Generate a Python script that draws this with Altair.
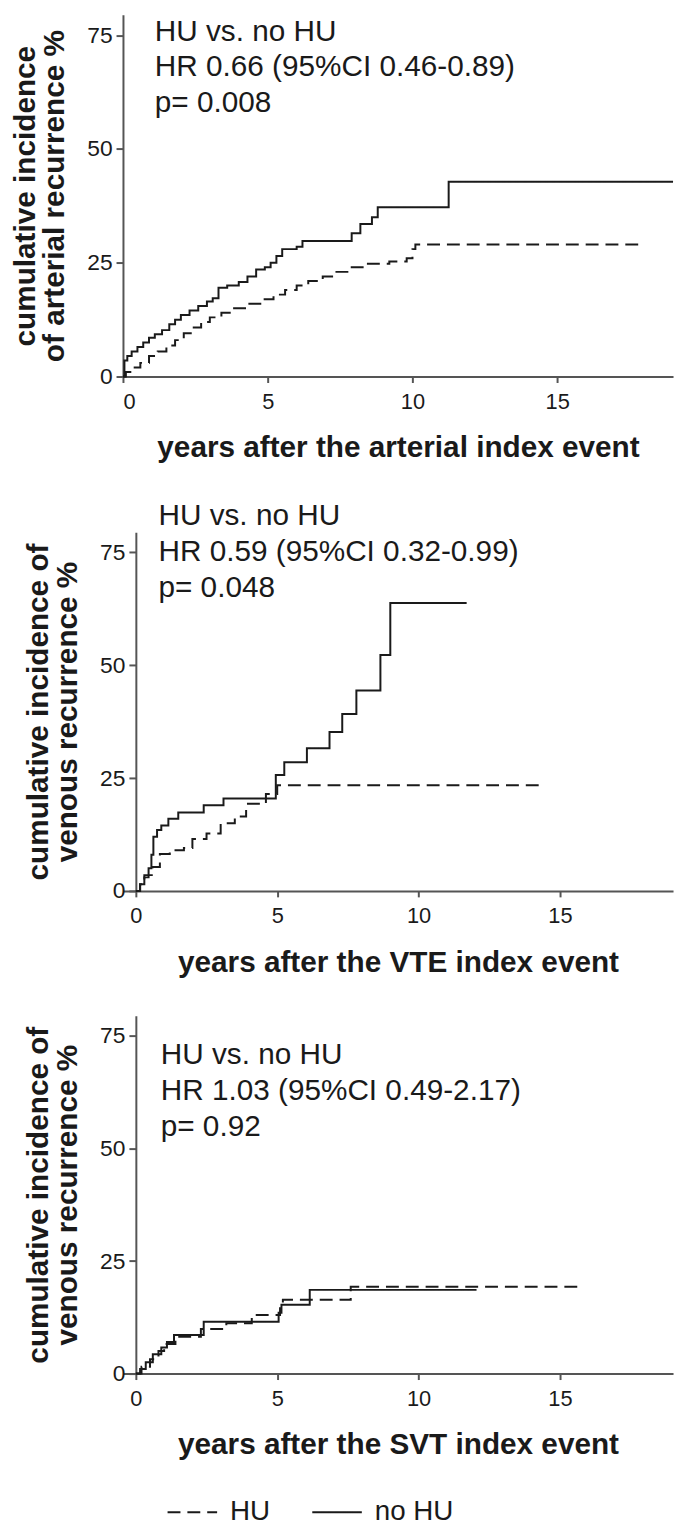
import altair as alt
import pandas as pd

FONT = "Liberation Sans"
INK = "#1a1a1a"
AXIS_GRAY = "#555555"

GROUPS = ["HU", "no HU"]
X_TICKS = [0, 5, 10, 15]
Y_TICKS = [0, 25, 50, 75]

# ---- Panel 1: arterial recurrence ----
ART_HU_T = [0, 0.1, 0.3, 0.6, 0.9, 1.2, 1.5, 1.8, 2.1, 2.4, 2.7, 3.0, 3.4, 3.8, 4.3, 4.8,
            5.2, 5.6, 6.0, 6.4, 6.9, 7.3, 7.8, 8.4, 9.2, 9.8, 10.0, 10.1, 17.8]
ART_HU_Y = [0, 1, 2, 3, 4.5, 5.5, 6.8, 8, 9.5, 10.8, 12, 13, 14, 15, 16, 17,
            18, 19, 20, 21, 22, 23, 24, 24.8, 25.3, 26, 28, 29, 29]
ART_NO_T = [0, 0.05, 0.15, 0.3, 0.5, 0.7, 0.9, 1.1, 1.35, 1.6, 1.8, 2.0, 2.3, 2.6, 2.9, 3.1,
            3.3, 3.6, 4.0, 4.3, 4.6, 4.9, 5.1, 5.3, 5.5, 6.0, 6.2, 7.9, 8.2, 8.6, 8.8, 11.25, 19]
ART_NO_Y = [0, 3.5, 4.5, 5.5, 6.5, 7.5, 8.5, 9.3, 10.2, 11.5, 12.5, 13.5, 14.5, 15.5, 16.5, 17.2,
            19.5, 20, 20.8, 22, 23.5, 24, 25, 26.5, 28, 28.5, 29.8, 31.5, 33.5, 35, 37.2, 42.8, 42.8]

# ---- Panel 2: venous recurrence after VTE ----
VTE_HU_T = [0, 0.15, 0.3, 0.6, 0.85, 1.2, 1.7, 2.0, 2.5, 3.0, 3.5, 3.9, 4.6, 5.0, 14.3]
VTE_HU_Y = [0, 1.5, 3.5, 5.3, 8.2, 9, 9.5, 11.5, 12.7, 15, 16.5, 19.3, 21.5, 23.4, 23.4]
VTE_NO_T = [0, 0.15, 0.3, 0.45, 0.55, 0.62, 0.75, 0.9, 1.15, 1.5, 2.4, 3.1, 4.95, 5.25,
            6.05, 6.85, 7.3, 7.8, 8.65, 9.0, 11.7]
VTE_NO_Y = [0, 1.5, 3, 5, 8, 12, 13.5, 14.5, 16, 17.4, 19, 20.5, 25.7, 28.5,
            31.6, 35.2, 39.2, 44.4, 52.3, 63.8, 63.8]

# ---- Panel 3: venous recurrence after SVT ----
SVT_HU_T = [0, 0.2, 0.5, 0.8, 1.0, 1.4, 2.3, 3.2, 4.1, 5.1, 5.2, 7.6, 15.7]
SVT_HU_Y = [0, 1.5, 3.2, 5, 6.6, 8.2, 9.9, 11.2, 13, 14.5, 16.4, 19.3, 19.3]
SVT_NO_T = [0, 0.15, 0.35, 0.6, 0.9, 1.1, 1.35, 2.4, 5.05, 5.15, 6.15, 12.05]
SVT_NO_Y = [0, 1, 2.5, 4.3, 5.8, 7, 8.6, 11.5, 13.5, 15.3, 18.6, 18.6]

ANNOT_ART = ["HU vs. no HU", "HR 0.66 (95%CI 0.46-0.89)", "p= 0.008"]
ANNOT_VTE = ["HU vs. no HU", "HR 0.59 (95%CI 0.32-0.99)", "p= 0.048"]
ANNOT_SVT = ["HU vs. no HU", "HR 1.03 (95%CI 0.49-2.17)", "p= 0.92"]

YT_ART = ["cumulative incidence", "of arterial recurrence %"]
YT_VEN = ["cumulative incidence of", "venous recurrence %"]
XT_ART = "years after the arterial index event"
XT_VTE = "years after the VTE index event"
XT_SVT = "years after the SVT index event"


def frame(t_hu, y_hu, t_no, y_no):
    return pd.DataFrame({
        "t": t_hu + t_no,
        "ci": y_hu + y_no,
        "group": ["HU"] * len(t_hu) + ["no HU"] * len(t_no),
    })


def panel(df, ytitle, xtitle, annot, ax, ay, x0, yoff, h):
    xscale = alt.Scale(domain=[x0, 19], nice=False, zero=False)
    yscale = alt.Scale(domain=[0, 79.5], nice=False)
    lines = alt.Chart(df).mark_line(
        interpolate="step-after", strokeWidth=2, color=INK
    ).encode(
        x=alt.X("t:Q", scale=xscale, axis=alt.Axis(values=X_TICKS, title=xtitle)),
        y=alt.Y("ci:Q", scale=yscale,
                axis=alt.Axis(values=Y_TICKS, title=ytitle, offset=yoff)),
        strokeDash=alt.StrokeDash(
            "group:N",
            scale=alt.Scale(domain=GROUPS, range=[[13, 7], [1, 0]]),
            legend=alt.Legend(title=None),
        ),
    )
    text = alt.Chart(alt.Data(values=[{}])).mark_text(
        text=annot, align="left", baseline="middle", fontSize=30,
        lineHeight=36, font=FONT, color=INK
    ).encode(x=alt.datum(ax), y=alt.datum(ay))
    return alt.layer(lines, text).properties(width=555, height=h)


p1 = panel(frame(ART_HU_T, ART_HU_Y, ART_NO_T, ART_NO_Y), YT_ART, XT_ART,
           ANNOT_ART, 1.1, 75.8, 0, 0, 365)
p2 = panel(frame(VTE_HU_T, VTE_HU_Y, VTE_NO_T, VTE_NO_Y), YT_VEN, XT_VTE,
           ANNOT_VTE, 0.8, 83.0, -13 / 28.53, -13, 362)
p3 = panel(frame(SVT_HU_T, SVT_HU_Y, SVT_NO_T, SVT_NO_Y), YT_VEN, XT_SVT,
           ANNOT_SVT, 0.88, 70.7, -13 / 28.53, -13, 361)

chart = alt.vconcat(p1, p2, p3, spacing=39).resolve_scale(
    x="independent", y="independent", strokeDash="shared"
).properties(
    padding={"left": 2, "top": 0, "right": 0, "bottom": 0}
).configure_view(
    stroke=None
).configure_axis(
    grid=False, domainColor=AXIS_GRAY, tickColor=AXIS_GRAY, domainWidth=2,
    tickWidth=2, labelFont=FONT, titleFont=FONT, labelColor=INK, titleColor=INK,
    titleFontWeight="bold",
).configure_axisX(
    labelFontSize=22, tickSize=6, labelPadding=9, titleFontSize=30, titlePadding=21,
).configure_axisY(
    labelFontSize=23, tickSize=7, labelPadding=4, titleFontSize=30,
    titleLineHeight=30, titlePadding=17,
).configure_legend(
    orient="none", legendX=44, legendY=1485, direction="horizontal",
    symbolType="stroke", symbolSize=2500, symbolStrokeWidth=2,
    symbolStrokeColor=INK, labelFont=FONT, labelFontSize=28, labelColor=INK,
    columnPadding=38, labelOffset=12, padding=0,
)

chart.save("out.html", embed_options={"renderer": "svg", "actions": False})
